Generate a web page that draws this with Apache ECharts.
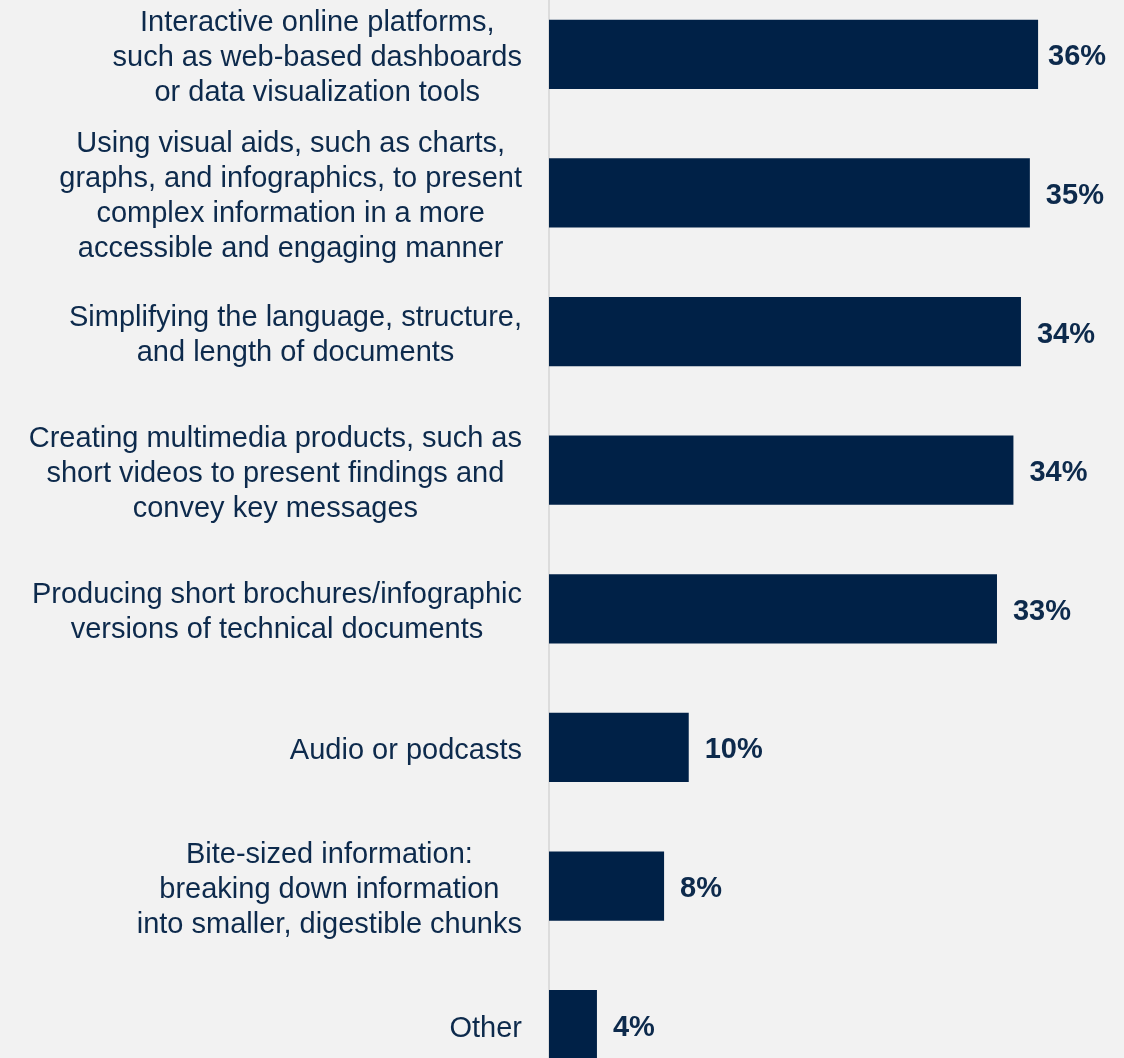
<!DOCTYPE html>
<html>
<head>
<meta charset="utf-8">
<script src="https://cdn.jsdelivr.net/npm/echarts@6/dist/echarts.min.js"></script>
<style>
html,body{margin:0;padding:0;background:#f2f2f2;}
#chart{width:1124px;height:1058px;}
</style>
</head>
<body>
<div id="chart"></div>
<script>
var categories = [
  "Interactive online platforms,\nsuch as web-based dashboards\nor data visualization tools",
  "Using visual aids, such as charts,\ngraphs, and infographics, to present\ncomplex information in a more\naccessible and engaging manner",
  "Simplifying the language, structure,\nand length of documents",
  "Creating multimedia products, such as\nshort videos to present findings and\nconvey key messages",
  "Producing short brochures/infographic\nversions of technical documents",
  "Audio or podcasts",
  "Bite-sized information:\nbreaking down information\ninto smaller, digestible chunks",
  "Other"
];
var values = [35.7, 35.1, 34.45, 33.9, 32.7, 10.2, 8.4, 3.5];
var valueLabels = ["36%", "35%", "34%", "34%", "33%", "10%", "8%", "4%"];

var textColor = '#0d2a4c';
var barColor = '#002147';
var font = '"Liberation Sans", Arial, sans-serif';

var chart = echarts.init(document.getElementById('chart'), null, {renderer: 'canvas'});
chart.setOption({
  backgroundColor: '#f2f2f2',
  animation: false,
  grid: {left: 549, top: -15, height: 1109, width: 548, containLabel: false, outerBoundsMode: 'none'},
  xAxis: {
    type: 'value', min: 0, max: 40, show: false
  },
  yAxis: {
    type: 'category',
    data: categories,
    inverse: true,
    offset: 1,
    axisLine: {show: true, lineStyle: {color: '#d4d4d4', width: 1.5}},
    axisTick: {show: false},
    splitLine: {show: false},
    axisLabel: {
      margin: 26,
      align: 'right',
      padding: [8, 0, 0, 0],
      formatter: function (v) { return '{c|' + v + '}'; },
      rich: {
        c: {
          align: 'center',
          fontSize: 29,
          lineHeight: 35,
          fontFamily: font,
          color: textColor
        }
      }
    }
  },
  series: [{
    type: 'bar',
    barWidth: 69.3,
    itemStyle: {color: barColor},
    data: values.map(function (v, i) {
      return i === 0 ? {value: v, label: {distance: 10}} : v;
    }),
    label: {
      show: true,
      position: 'right',
      distance: 16,
      offset: [0, 3],
      fontSize: 29,
      fontWeight: 'bold',
      fontFamily: font,
      color: textColor,
      formatter: function (p) { return valueLabels[p.dataIndex]; }
    }
  }]
});
</script>
</body>
</html>
